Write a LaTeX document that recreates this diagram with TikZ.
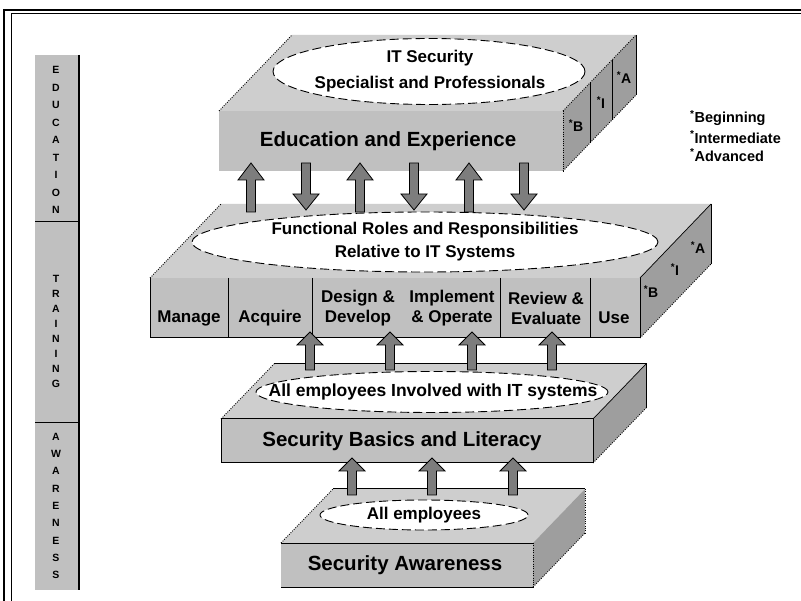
\documentclass[tikz,border=0pt]{standalone}
\usepackage{fontspec}
\setmainfont{Liberation Sans}
\usetikzlibrary{shapes.geometric}
\definecolor{topc}{RGB}{206,206,206}
\definecolor{frontc}{RGB}{192,192,192}
\definecolor{sidec}{RGB}{158,158,158}
\definecolor{arrc}{RGB}{125,125,125}
\definecolor{barc}{RGB}{192,192,192}
\begin{document}
\begin{tikzpicture}[x=1pt,y=-1pt,
  dotedge/.style={line width=0.9pt, dash pattern=on 1pt off 1.3pt},
  solidedge/.style={line width=1pt},
  ell/.style={ellipse, draw, line width=0.9pt, dash pattern=on 9pt off 4pt, fill=white, inner sep=0pt},
  big/.style={font=\fontsize{20.5}{24}\selectfont\bfseries},
  mid/.style={font=\fontsize{17}{20}\selectfont\bfseries, align=center, inner sep=0pt},
  sidelab/.style={font=\fontsize{14}{16}\selectfont\bfseries, inner sep=0pt},
  barlab/.style={font=\fontsize{10.5}{#1}\selectfont\bfseries, align=center, inner sep=0pt},
  legend/.style={font=\fontsize{14.5}{17}\selectfont\bfseries, anchor=west, inner sep=0pt},
  arrowsty/.style={fill=arrc, draw=black, line width=0.8pt, line join=miter},
  pics/uparr/.style n args={2}{code={
    \draw[arrowsty] (-4.5,0) -- (-4.5,-#1+#2) -- (-13,-#1+#2) -- (0,-#1)
      -- (13,-#1+#2) -- (4.5,-#1+#2) -- (4.5,0) -- cycle;}},
  pics/downarr/.style n args={2}{code={
    \draw[arrowsty] (-4.5,0) -- (-4.5,#1-#2) -- (-13,#1-#2) -- (0,#1)
      -- (13,#1-#2) -- (4.5,#1-#2) -- (4.5,0) -- cycle;}}
]
\useasboundingbox (0,0) rectangle (801,601);
\fill[white] (0,0) rectangle (801,601);

% frame
\draw[line width=2.8pt] (4,601) -- (4,10) -- (801,10);
\draw[line width=1pt] (11,601) -- (11,14) -- (801,14);

% left bar
\fill[barc] (35,55) rectangle (79,590);
\draw[line width=1.2pt] (79,55) -- (79,590);
\draw[line width=1pt] (35,222) -- (79,222);
\draw[line width=1pt] (35,423) -- (79,423);
\node[barlab=17.5] (edu) at (56,140) {E\\D\\U\\C\\A\\T\\I\\O\\N};
\node[barlab=15] (tra) at (56,331) {T\\R\\A\\I\\N\\I\\N\\G};
\node[barlab=17.3] (awa) at (56,506) {A\\W\\A\\R\\E\\N\\E\\S\\S};

% legend
\node[legend] (lb) at (690,118) {\textsuperscript{*}Beginning};
\node[legend] (li) at (690,137) {\textsuperscript{*}Intermediate};
\node[legend] (la) at (690,155) {\textsuperscript{*}Advanced};

% ---------- block 1 : education ----------
\fill[topc] (219,111) -- (292,35) -- (636,35) -- (563,111) -- cycle;
\fill[frontc] (219,111) rectangle (563,171);
\fill[sidec] (563,111) -- (636,35) -- (636,95) -- (563,171) -- cycle;
\draw[dotedge] (219,111) -- (292,35);
\draw[dotedge] (563,111) -- (636,35);
\draw[dotedge] (563,171) -- (636,95);
\draw[dotedge] (563,111) -- (563,171);
\draw[solidedge] (636,35) -- (636,95);
\draw[solidedge] (590,83) -- (590,143);
\draw[solidedge] (612,60) -- (612,120);
\node[sidelab] (b1b) at (576,126) {\textsuperscript{*}B};
\node[sidelab] (b1i) at (601,103) {\textsuperscript{*}I};
\node[sidelab] (b1a) at (624,78) {\textsuperscript{*}A};
\node[ell, minimum width=312, minimum height=66] (e1) at (429,71.5) {};
\node[mid, font=\fontsize{17}{26}\selectfont\bfseries] (t1) at (430,71) {IT Security\\Specialist and Professionals};
\node[big] (n1) at (388,141) {Education and Experience};

% ---------- block 2 : training ----------
\fill[topc] (150,278) -- (221,204) -- (711,204) -- (640,278) -- cycle;
\fill[frontc] (150,278) rectangle (640,338);
\fill[sidec] (640,278) -- (711,204) -- (711,264) -- (640,338) -- cycle;
\draw[dotedge] (150,278) -- (221,204);
\draw[line width=0.7pt] (640,278) -- (711,204);
\draw[solidedge] (711,204) -- (711,264);
\draw[dotedge] (640,338) -- (711,264);
\draw[solidedge] (150,278) -- (150,338) -- (640,338) -- (640,278);
\foreach \dx in {228,312,500,590} \draw[solidedge] (\dx,278) -- (\dx,338);
\node[sidelab] (b2b) at (651,292) {\textsuperscript{*}B};
\node[sidelab] (b2i) at (675,270) {\textsuperscript{*}I};
\node[sidelab] (b2a) at (698,248) {\textsuperscript{*}A};
\node[ell, minimum width=466, minimum height=60] (e2) at (425,242) {};
\node[mid, font=\fontsize{17}{23}\selectfont\bfseries] (t2) at (425,242) {Functional Roles and Responsibilities\\Relative to IT Systems};
\node[mid] (c1) at (189,318) {Manage};
\node[mid] (c2) at (270,318) {Acquire};
\node[mid] (c3) at (358,308) {Design \&\\Develop};
\node[mid] (c4) at (452,308) {Implement\\\& Operate};
\node[mid] (c5) at (546,308) {Review \&\\Evaluate};
\node[mid] (c6) at (614,318) {Use};

% ---------- block 3 : basics ----------
\fill[topc] (221,419) -- (274,364) -- (646,364) -- (593,419) -- cycle;
\fill[frontc] (221,419) rectangle (593,463);
\fill[sidec] (593,419) -- (646,364) -- (646,408) -- (593,463) -- cycle;
\draw[dotedge] (221,419) -- (274,364);
\draw[solidedge] (274,364) -- (646,364) -- (646,408);
\draw[line width=0.7pt] (593,419) -- (646,364);
\draw[dotedge] (593,463) -- (646,408);
\draw[solidedge] (221,419) rectangle (593,463);
\node[ell, minimum width=352, minimum height=41] (e3) at (432,392) {};
\node[mid, font=\fontsize{17.5}{20}\selectfont\bfseries] (t3) at (433,392) {All employees Involved with IT systems};
\node[big] (n3) at (402,441) {Security Basics and Literacy};

% ---------- block 4 : awareness ----------
\fill[topc] (281,543) -- (333,489) -- (585,489) -- (533,543) -- cycle;
\fill[frontc] (281,543) rectangle (533,587);
\fill[sidec] (533,543) -- (585,489) -- (585,533) -- (533,587) -- cycle;
\draw[dotedge] (281,543) -- (333,489);
\draw[solidedge] (333,489) -- (585,489);
\draw[dotedge] (585,489) -- (585,533);
\draw[dotedge] (533,587) -- (585,533);
\draw[dotedge] (533,543) -- (533,587);
\draw[solidedge] (281,543) -- (533,543);
\draw[solidedge] (281,587) -- (533,587);
\node[ell, minimum width=208, minimum height=30] (e4) at (424,515) {};
\node[mid] (t4) at (424,515) {All employees};
\node[big] (n4) at (405,565) {Security Awareness};

% ---------- arrows ----------
\pic (ua1) at (251,212) {uparr={49}{17}};
\pic (ua2) at (360,212) {uparr={49}{17}};
\pic (ua3) at (469,212) {uparr={49}{17}};
\pic (da1) at (306,163) {downarr={47}{16}};
\pic (da2) at (414,163) {downarr={47}{16}};
\pic (da3) at (524,163) {downarr={47}{16}};

\pic (ma1) at (310,370) {uparr={38}{13}};
\pic (ma2) at (390,370) {uparr={38}{13}};
\pic (ma3) at (472,370) {uparr={38}{13}};
\pic (ma4) at (552,370) {uparr={38}{13}};

\pic (ba1) at (352,495) {uparr={37}{13}};
\pic (ba2) at (432,495) {uparr={37}{13}};
\pic (ba3) at (513,495) {uparr={37}{13}};
\end{tikzpicture}
\end{document}
